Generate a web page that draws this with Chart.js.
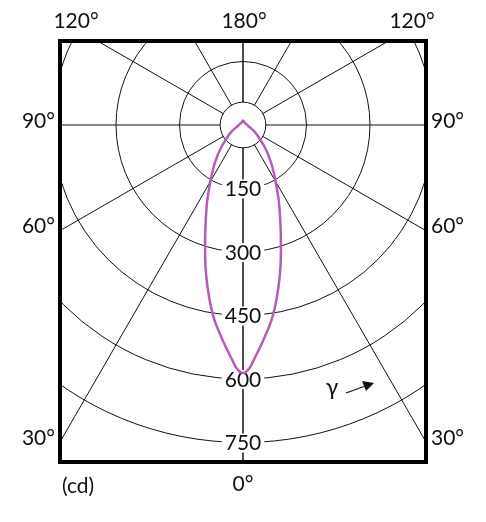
<!DOCTYPE html>
<html>
<head>
<meta charset="utf-8">
<script src="https://cdn.jsdelivr.net/npm/chart.js@4.4.3/dist/chart.umd.min.js"></script>
<style>
  html, body { margin: 0; padding: 0; background: #ffffff; }
  canvas { display: block; }
</style>
</head>
<body>
<canvas id="polar" width="486" height="522"></canvas>
<script>
// Lichtstärkeverteilung (cd) über den Ausstrahlungswinkel gamma, 0° = nach unten
const ANGLES = [0, 1.5, 3, 4.5, 6, 8, 10, 12.5, 15, 17.5, 20, 25, 30, 35, 40, 45, 50, 55, 60, 70, 80, 90, 120, 150, 180];
const INTENSITY = [586, 575, 549, 525, 501, 471, 436, 389, 343, 298, 260, 201, 154, 121, 93, 71, 52, 41, 32, 18, 12, 10, 7, 7, 9.5];

const RING_VALUES = [150, 300, 450, 600, 750];
const RADIAL_ANGLES = [0, 30, 60, 90, 120, 150, 180];
const SIDE_LABELS = [90, 60, 30];
const TOP_LABELS = ["120°", "180°", "120°"];

const HUB_CD = 54;        // innerer Kreis, dort beginnen die Strahlen
const FONT = "Lato, 'Open Sans', 'DejaVu Sans', sans-serif";
const CURVE_COLOR = "#b35db5";

const rad = (deg) => (deg * Math.PI) / 180;

// Punkt im Diagramm: x = I·sin(g), y = -I·cos(g)
function toXY(deg, cd, side) {
  return { x: side * cd * Math.sin(rad(deg)), y: -cd * Math.cos(rad(deg)) };
}

// von der Spitze (180°) rechts herunter bis 0°, dann links wieder hinauf
const curve = [];
for (let i = ANGLES.length - 1; i >= 0; i--) curve.push(toXY(ANGLES[i], INTENSITY[i], 1));
for (let i = 1; i < ANGLES.length; i++) curve.push(toXY(ANGLES[i], INTENSITY[i], -1));

const polarGrid = {
  id: "polarGrid",
  beforeDatasetsDraw(chart) {
    const { ctx, chartArea: ca, scales: { x, y } } = chart;
    const cx = x.getPixelForValue(0);
    const cy = y.getPixelForValue(0);
    const px = (cd) => x.getPixelForValue(cd) - cx;

    ctx.save();
    ctx.beginPath();
    ctx.rect(ca.left, ca.top, ca.right - ca.left, ca.bottom - ca.top);
    ctx.clip();
    ctx.strokeStyle = "#111";
    ctx.lineWidth = 1;

    [HUB_CD, ...RING_VALUES].forEach((r) => {
      ctx.beginPath();
      ctx.arc(cx, cy, px(r), 0, Math.PI * 2);
      ctx.stroke();
    });

    RADIAL_ANGLES.forEach((a) => {
      [1, -1].forEach((side) => {
        const p0 = toXY(a, HUB_CD, side);
        const p1 = toXY(a, 3000, side);
        ctx.beginPath();
        ctx.moveTo(x.getPixelForValue(p0.x), y.getPixelForValue(p0.y));
        ctx.lineTo(x.getPixelForValue(p1.x), y.getPixelForValue(p1.y));
        ctx.stroke();
      });
    });

    // Beschriftung der Ringe auf der 0°-Achse
    ctx.font = "21px " + FONT;
    ctx.textAlign = "center";
    ctx.textBaseline = "middle";
    RING_VALUES.forEach((r) => {
      const ty = y.getPixelForValue(-r);
      const w = ctx.measureText(String(r)).width;
      ctx.fillStyle = "#fff";
      ctx.fillRect(cx - w / 2 - 3, ty - 9, w + 6, 19);
      ctx.fillStyle = "#111";
      ctx.fillText(String(r), cx, ty + 1);
    });
    ctx.restore();
  },
  afterDraw(chart) {
    const { ctx, chartArea: ca, scales: { x, y } } = chart;
    const cx = x.getPixelForValue(0);
    const cy = y.getPixelForValue(0);

    ctx.save();
    ctx.strokeStyle = "#000";
    ctx.lineWidth = 4;
    ctx.strokeRect(ca.left, ca.top, ca.right - ca.left, ca.bottom - ca.top);

    ctx.fillStyle = "#111";
    ctx.font = "21px " + FONT;
    ctx.textBaseline = "middle";

    // Winkel am linken/rechten Rand
    SIDE_LABELS.forEach((a) => {
      const half = ca.right - cx;
      const hit = cy + half / Math.tan(rad(a));
      const ty = (a === 90 ? cy : hit) - 4;
      ctx.textAlign = "right";
      ctx.fillText(a + "°", ca.left - 5, ty);
      ctx.textAlign = "left";
      ctx.fillText(a + "°", ca.right + 5, ty);
    });

    ctx.textAlign = "center";
    ctx.fillText(TOP_LABELS[0], ca.left + 16, 21);
    ctx.fillText(TOP_LABELS[1], cx + 1, 21);
    ctx.fillText(TOP_LABELS[2], ca.right - 14, 21);
    ctx.fillText("0°", cx, 484);

    ctx.textAlign = "left";
    ctx.fillText("(cd)", ca.left + 2, 486);

    // gamma mit Pfeil
    ctx.textAlign = "center";
    ctx.font = "23px " + FONT;
    ctx.fillText("γ", 332, 388);
    ctx.strokeStyle = "#111";
    ctx.lineWidth = 1.2;
    ctx.beginPath();
    ctx.moveTo(346, 393);
    ctx.lineTo(364, 386.5);
    ctx.stroke();
    ctx.beginPath();
    ctx.moveTo(374, 383);
    ctx.lineTo(362, 381);
    ctx.lineTo(366, 391);
    ctx.closePath();
    ctx.fill();
    ctx.restore();
  }
};

new Chart(document.getElementById("polar"), {
  type: "scatter",
  data: {
    datasets: [{
      data: curve,
      showLine: true,
      borderColor: CURVE_COLOR,
      borderWidth: 2.5,
      backgroundColor: CURVE_COLOR,
      pointStyle: "rect",
      pointBorderWidth: 0,
      pointRadius: (c) => (c.dataIndex === 0 ? 2 : 0),
      tension: 0.3,
      fill: false
    }]
  },
  options: {
    responsive: false,
    animation: false,
    devicePixelRatio: 1,
    layout: { padding: { left: 60, top: 41, right: 60, bottom: 60 } },
    plugins: { legend: { display: false }, tooltip: { enabled: false } },
    scales: {
      x: { type: "linear", display: false, min: -432.3, max: 432.3 },
      y: { type: "linear", display: false, min: -796, max: 198.4 }
    }
  },
  plugins: [polarGrid]
});
</script>
</body>
</html>
